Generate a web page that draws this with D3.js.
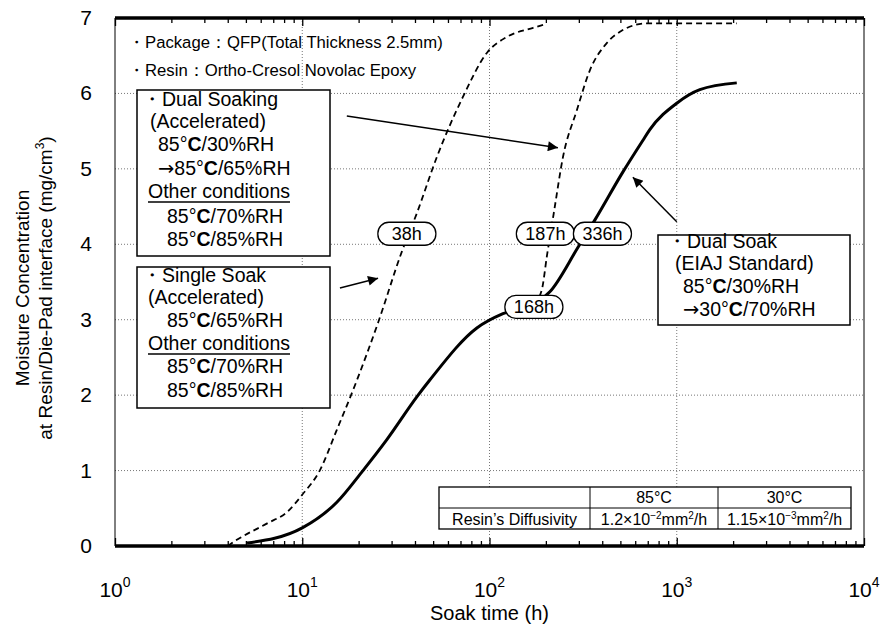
<!DOCTYPE html>
<html>
<head>
<meta charset="utf-8">
<script src="https://cdn.jsdelivr.net/npm/d3@7"></script>
<style>
  body { margin: 0; background: #fff; }
  text { font-family: "Liberation Sans", Arial, sans-serif; fill: #000; }
</style>
</head>
<body>
<script>
// soak time (h) vs moisture concentration (mg/cm3)
const singleT = [4.0, 4.4, 6.5, 8.3, 10, 12.4, 15.3, 19.6, 25.4, 34, 40.9, 52.4, 72, 97, 124, 171, 200]
const singleC = [0.0, 0.07, 0.3, 0.45, 0.68, 1.0, 1.54, 2.2, 2.96, 3.9, 4.41, 5.16, 5.95, 6.54, 6.75, 6.87, 6.92]
const dualAccT = [172, 190, 203, 221, 247, 293, 344, 424, 515, 692, 1000, 2090]
const dualAccC = [3.2, 3.39, 3.86, 4.43, 5.16, 5.78, 6.31, 6.67, 6.84, 6.93, 6.93, 6.93]
const eiajT = [5.07, 10, 15.3, 21.1, 28.3, 41, 48, 85.6, 118, 172, 210, 297, 365, 516, 660, 718, 1000, 1328, 2092]
const eiajC = [0.04, 0.24, 0.58, 1.0, 1.41, 1.98, 2.2, 2.89, 3.08, 3.2, 3.37, 3.96, 4.32, 4.96, 5.38, 5.52, 5.87, 6.05, 6.14]

const yTicks = [0, 1, 2, 3, 4, 5, 6, 7]
const xDecades = [0, 1, 2, 3, 4]

// hour labels on the curves
const pillText = ["38h", "168h", "187h", "336h"]
const pillT = [36.2, 172.6, 198.8, 401]
const pillC = [4.14, 3.17, 4.14, 4.14]

// arrows [tail t, tail c, head t, head c]
const arrowFromT = [17.3, 15.9, 1000]
const arrowFromC = [5.70, 3.42, 4.30]
const arrowToT = [232, 25.4, 583]
const arrowToC = [5.28, 3.55, 4.89]

const headerLines = ["・Package：QFP(Total Thickness 2.5mm)", "・Resin：Ortho-Cresol Novolac Epoxy"]
const box1Lines = ["・Dual Soaking", "(Accelerated)", "85°C/30%RH", "→85°C/65%RH", "Other conditions", "85°C/70%RH", "85°C/85%RH"]
const box2Lines = ["・Single Soak", "(Accelerated)", "85°C/65%RH", "Other conditions", "85°C/70%RH", "85°C/85%RH"]
const box3Lines = ["・Dual Soak", "(EIAJ Standard)", "85°C/30%RH", "→30°C/70%RH"]

const tableHead = ["", "85°C", "30°C"]
const tableRow = ["Resin’s Diffusivity", "1.2×10^-2mm^2/h", "1.15×10^-3mm^2/h"]

const W = 887, H = 634
const L = 115, R = 864, T = 18, B = 546

var svg = d3.select("body").append("svg")
            .attr("width", W)
            .attr("height", H)

var x = d3.scaleLog().domain([1, 10000]).range([L, R])
var y = d3.scaleLinear().domain([0, 7]).range([B, T])

// grid
svg.append("g").selectAll("line").data(yTicks.slice(1, 7)).join("line")
   .attr("x1", L).attr("x2", R)
   .attr("y1", d => y(d)).attr("y2", d => y(d))
   .attr("stroke", "#777").attr("stroke-width", 1).attr("stroke-dasharray", "1,2")
svg.append("g").selectAll("line").data(xDecades.slice(1, 4)).join("line")
   .attr("x1", d => x(Math.pow(10, d))).attr("x2", d => x(Math.pow(10, d)))
   .attr("y1", T).attr("y2", B)
   .attr("stroke", "#777").attr("stroke-width", 1).attr("stroke-dasharray", "1,2")

// side frame
svg.append("line").attr("x1", L).attr("x2", L).attr("y1", T).attr("y2", B).attr("stroke", "#000").attr("stroke-width", 1)
svg.append("line").attr("x1", R).attr("x2", R).attr("y1", T).attr("y2", B).attr("stroke", "#000").attr("stroke-width", 1)

// curves
var line = d3.line().x(d => x(d[0])).y(d => y(d[1])).curve(d3.curveMonotoneX)
function pairs(a, b) { return a.map((v, i) => [v, b[i]]) }

svg.append("path").attr("d", line(pairs(singleT, singleC)))
   .attr("fill", "none").attr("stroke", "#000").attr("stroke-width", 1.8).attr("stroke-dasharray", "6,4")
svg.append("path").attr("d", line(pairs(dualAccT, dualAccC)))
   .attr("fill", "none").attr("stroke", "#000").attr("stroke-width", 1.8).attr("stroke-dasharray", "6,4")
svg.append("path").attr("d", line(pairs(eiajT, eiajC)))
   .attr("fill", "none").attr("stroke", "#000").attr("stroke-width", 3)

// axes: thick top and bottom with inward ticks
var minor = []
for (var k = 0; k < 4; k++) for (var m = 2; m <= 9; m++) minor.push(m * Math.pow(10, k))
var majors = xDecades.map(d => Math.pow(10, d))

var bottomAx = svg.append("g").attr("transform", "translate(0," + B + ")")
bottomAx.call(d3.axisTop(x).tickValues(minor).tickSize(5).tickFormat(""))
bottomAx.append("g").call(d3.axisTop(x).tickValues(majors).tickSize(8).tickFormat(""))
var topAx = svg.append("g").attr("transform", "translate(0," + T + ")")
topAx.call(d3.axisBottom(x).tickValues(minor).tickSize(5).tickFormat(""))
topAx.append("g").call(d3.axisBottom(x).tickValues(majors).tickSize(8).tickFormat(""))
svg.selectAll(".domain").remove()
svg.selectAll(".tick line").attr("stroke", "#000").attr("stroke-width", 1.3)
svg.append("line").attr("x1", L).attr("x2", R).attr("y1", B).attr("y2", B).attr("stroke", "#000").attr("stroke-width", 3.5)
svg.append("line").attr("x1", L).attr("x2", R).attr("y1", T).attr("y2", T).attr("stroke", "#000").attr("stroke-width", 3.5)

// tick labels
svg.append("g").selectAll("text").data(yTicks).join("text")
   .attr("x", 92).attr("y", d => y(d) + 7)
   .attr("text-anchor", "end").attr("font-size", 21)
   .text(d => d)
var xl = svg.append("g").selectAll("text").data(xDecades).join("text")
   .attr("x", d => x(Math.pow(10, d))).attr("y", 597)
   .attr("text-anchor", "middle").attr("font-size", 21)
xl.append("tspan").text("10")
xl.append("tspan").attr("font-size", 14).attr("dy", -10).text(d => d)

// axis titles
svg.append("text").attr("x", (L + R) / 2).attr("y", 620).attr("text-anchor", "middle")
   .attr("font-size", 20).text("Soak time (h)")
var yt = svg.append("g").attr("transform", "translate(0," + 288 + ") rotate(-90)")
yt.append("text").attr("x", 0).attr("y", 29).attr("text-anchor", "middle").attr("font-size", 19)
  .text("Moisture Concentration")
var yt2 = yt.append("text").attr("x", 0).attr("y", 52).attr("text-anchor", "middle").attr("font-size", 19)
yt2.append("tspan").text("at Resin/Die-Pad interface (mg/cm")
yt2.append("tspan").attr("font-size", 12).attr("dy", -8).text("3")
yt2.append("tspan").attr("dy", 8).text(")")

// header notes
svg.append("g").selectAll("text").data(headerLines).join("text")
   .attr("x", 128).attr("y", (d, i) => 48 + i * 28)
   .attr("font-size", 16.7).text(d => d)

// text boxes
function degLine(sel, s) {
  if (s.charAt(0) == "→") {
    sel.append("tspan").attr("font-family", "DejaVu Sans").text("→")
    s = s.slice(1)
  }
  var parts = s.split("°C")
  parts.forEach(function(p, i) {
    sel.append("tspan").text(p + (i < parts.length - 1 ? "°" : ""))
    if (i < parts.length - 1) sel.append("tspan").attr("font-weight", "bold").text("C")
  })
}
function textBox(bx, by, bw, bh, lines, xs, ys) {
  var g = svg.append("g")
  g.append("rect").attr("x", bx).attr("y", by).attr("width", bw).attr("height", bh)
   .attr("fill", "#fff").attr("stroke", "#000").attr("stroke-width", 1.5)
  lines.forEach(function(s, i) {
    var t = g.append("text").attr("x", xs[i]).attr("y", ys[i]).attr("font-size", 19.5)
    degLine(t, s)
    if (s == "Other conditions") {
      var w = t.node().getComputedTextLength()
      g.append("line").attr("x1", xs[i]).attr("x2", xs[i] + w)
       .attr("y1", ys[i] + 4).attr("y2", ys[i] + 4).attr("stroke", "#000").attr("stroke-width", 1.3)
    }
  })
}
textBox(137, 90, 193, 166, box1Lines, [142, 150, 158, 158, 148, 167, 167], [106, 128, 151, 175, 198, 223, 246])
textBox(137, 267, 193, 141, box2Lines, [142, 148, 167, 148, 167, 167], [282, 304, 327, 350, 373, 397])
textBox(658, 235, 192, 90, box3Lines, [667, 675, 683, 683], [248, 270, 293, 316])

// arrows
svg.append("defs").append("marker").attr("id", "head")
   .attr("viewBox", "0 0 10 10").attr("refX", 10).attr("refY", 5)
   .attr("markerWidth", 14).attr("markerHeight", 10).attr("markerUnits", "userSpaceOnUse")
   .attr("orient", "auto")
   .append("path").attr("d", "M0,0L10,5L0,10Z").attr("fill", "#000")
svg.append("g").selectAll("line").data(arrowFromT).join("line")
   .attr("x1", d => x(d)).attr("y1", (d, i) => y(arrowFromC[i]))
   .attr("x2", (d, i) => x(arrowToT[i])).attr("y2", (d, i) => y(arrowToC[i]))
   .attr("stroke", "#000").attr("stroke-width", 1.5).attr("marker-end", "url(#head)")

// hour pills
var pills = svg.append("g").selectAll("g").data(pillText).join("g")
   .attr("transform", (d, i) => "translate(" + x(pillT[i]) + "," + y(pillC[i]) + ")")
pills.append("rect").attr("x", -29).attr("y", -11.5).attr("width", 58).attr("height", 23)
     .attr("rx", 11).attr("fill", "#fff").attr("stroke", "#000").attr("stroke-width", 1.3)
pills.append("text").attr("text-anchor", "middle").attr("y", 6.5).attr("font-size", 18).text(d => d)

// diffusivity table
var colX = [439, 590, 718, 851]
var rowY = [487, 508, 529]
var tb = svg.append("g")
tb.append("rect").attr("x", colX[0]).attr("y", rowY[0]).attr("width", colX[3] - colX[0]).attr("height", rowY[2] - rowY[0])
  .attr("fill", "#fff").attr("stroke", "#000").attr("stroke-width", 1.3)
tb.append("line").attr("x1", colX[0]).attr("x2", colX[3]).attr("y1", rowY[1]).attr("y2", rowY[1]).attr("stroke", "#000")
tb.selectAll(".vl").data([colX[1], colX[2]]).join("line")
  .attr("x1", d => d).attr("x2", d => d).attr("y1", rowY[0]).attr("y2", rowY[2]).attr("stroke", "#000")
function supText(sel, s) {
  var back = 0
  s.split(/(\^-?\d)/).forEach(function(p) {
    if (!p) return
    if (p.charAt(0) == "^") {
      sel.append("tspan").attr("font-size", 10).attr("dy", -6 + back).text(p.slice(1).replace("-", "−"))
      back = 6
    } else {
      sel.append("tspan").attr("dy", back).text(p)
      back = 0
    }
  })
}
tableHead.forEach(function(s, i) {
  var t = tb.append("text").attr("x", (colX[i] + colX[i + 1]) / 2).attr("y", rowY[0] + 16)
            .attr("text-anchor", "middle").attr("font-size", 16)
  t.text(s)
})
tableRow.forEach(function(s, i) {
  var t = tb.append("text").attr("x", (colX[i] + colX[i + 1]) / 2).attr("y", rowY[1] + 16.5)
            .attr("text-anchor", "middle").attr("font-size", 16)
  supText(t, s)
})
</script>
</body>
</html>
